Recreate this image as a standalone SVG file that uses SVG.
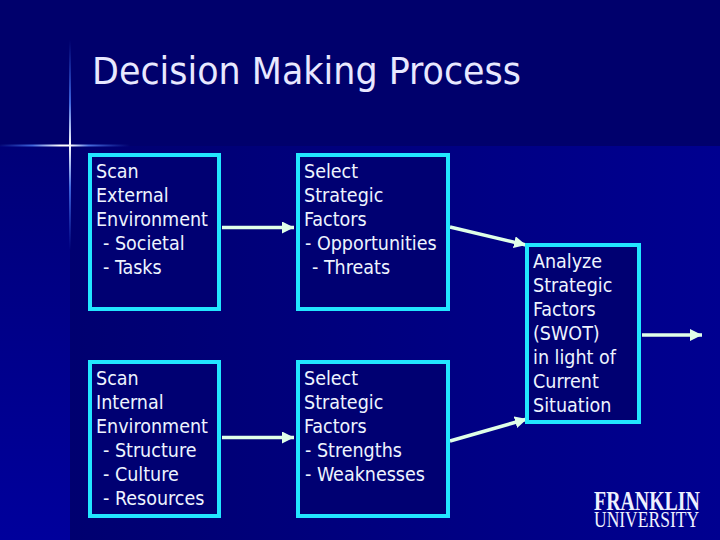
<svg xmlns="http://www.w3.org/2000/svg" width="720" height="540" viewBox="0 0 720 540">
<defs>
<linearGradient id="bgR" x1="0" y1="0" x2="1" y2="0"><stop offset="0" stop-color="#000070"/><stop offset="1" stop-color="#000090"/></linearGradient>
<linearGradient id="bgL" x1="0" y1="0" x2="0" y2="1"><stop offset="0" stop-color="#000078"/><stop offset="1" stop-color="#00009c"/></linearGradient>
<linearGradient id="flareH" x1="0" y1="0" x2="1" y2="0"><stop offset="0" stop-color="#2a4fd0" stop-opacity="0.1"/><stop offset="0.25" stop-color="#3f66dd"/><stop offset="0.46" stop-color="#ffffff"/><stop offset="0.54" stop-color="#ffffff"/><stop offset="0.68" stop-color="#4a70e0"/><stop offset="1" stop-color="#2a4fd0" stop-opacity="0"/></linearGradient>
<linearGradient id="flareV" x1="0" y1="0" x2="0" y2="1"><stop offset="0" stop-color="#2a4fd0" stop-opacity="0"/><stop offset="0.3" stop-color="#3f66dd"/><stop offset="0.5" stop-color="#ffffff"/><stop offset="0.7" stop-color="#3f66dd"/><stop offset="1" stop-color="#2a4fd0" stop-opacity="0"/></linearGradient>
<marker id="ah" markerUnits="userSpaceOnUse" markerWidth="14" markerHeight="14" refX="12" refY="6" orient="auto"><path d="M0 0L12 6L0 12Z" fill="#e0ffe8"/></marker>
</defs>
<style>
.t{font-family:"DejaVu Sans",sans-serif;font-stretch:condensed;fill:#eef4ff;font-size:19.5px}
.title{font-family:"DejaVu Sans",sans-serif;font-stretch:condensed;fill:#e8e8ff;font-size:37px}
.box{fill:#000072;stroke:#22e6ff;stroke-width:4}
.c{stroke:#e0ffe8;stroke-width:3.5;fill:none;marker-end:url(#ah)}
.logo{font-family:"Liberation Serif",serif;fill:#eef0ff}
</style>
<rect width="720" height="540" fill="#00006c"/>
<rect x="0" y="146" width="70" height="394" fill="url(#bgL)"/>
<rect x="70" y="146" width="650" height="394" fill="url(#bgR)"/>
<rect x="0" y="144.500" width="130" height="2" fill="url(#flareH)"/>
<rect x="69" y="40" width="2" height="210" fill="url(#flareV)"/>
<text class="title" x="92" y="84" textLength="429" lengthAdjust="spacingAndGlyphs">Decision Making Process</text>
<g id="connectors">
<path class="c" d="M222 227.500H294"/>
<path class="c" d="M222 437.500H294"/>
<path class="c" d="M450 227L526 245"/>
<path class="c" d="M450 441L527 419"/>
<path class="c" d="M642 335H702"/>
</g>
<g id="scan-external"><rect class="box" x="90" y="155" width="129" height="154"/>
<text class="t" x="96" y="178">Scan</text><text class="t" x="96" y="202">External</text><text class="t" x="96" y="226">Environment</text><text class="t" x="103" y="250">- Societal</text><text class="t" x="103" y="274">- Tasks</text></g>
<g id="select-external"><rect class="box" x="298" y="155" width="150" height="154"/>
<text class="t" x="304" y="178">Select</text><text class="t" x="304" y="202">Strategic</text><text class="t" x="304" y="226">Factors</text><text class="t" x="305" y="250">- Opportunities</text><text class="t" x="312" y="274">- Threats</text></g>
<g id="scan-internal"><rect class="box" x="90" y="362" width="129" height="154"/>
<text class="t" x="96" y="385">Scan</text><text class="t" x="96" y="409">Internal</text><text class="t" x="96" y="433">Environment</text><text class="t" x="103" y="457">- Structure</text><text class="t" x="103" y="481">- Culture</text><text class="t" x="103" y="505">- Resources</text></g>
<g id="select-internal"><rect class="box" x="298" y="362" width="150" height="154"/>
<text class="t" x="304" y="385">Select</text><text class="t" x="304" y="409">Strategic</text><text class="t" x="304" y="433">Factors</text><text class="t" x="305" y="457">- Strengths</text><text class="t" x="305" y="481">- Weaknesses</text></g>
<g id="analyze"><rect class="box" x="527" y="245" width="112" height="177"/>
<text class="t" x="533" y="268">Analyze</text><text class="t" x="533" y="292">Strategic</text><text class="t" x="533" y="316">Factors</text><text class="t" x="533" y="340">(SWOT)</text><text class="t" x="533" y="364">in light of</text><text class="t" x="533" y="388">Current</text><text class="t" x="533" y="412">Situation</text></g>
<g id="logo">
<text class="logo" transform="translate(594 510) scale(.736 1)" style="font-size:27px;font-weight:bold">FRANKLIN</text>
<text class="logo" transform="translate(594 527) scale(.73 1)" style="font-size:24px">UNIVERSITY</text>
</g>
</svg>
